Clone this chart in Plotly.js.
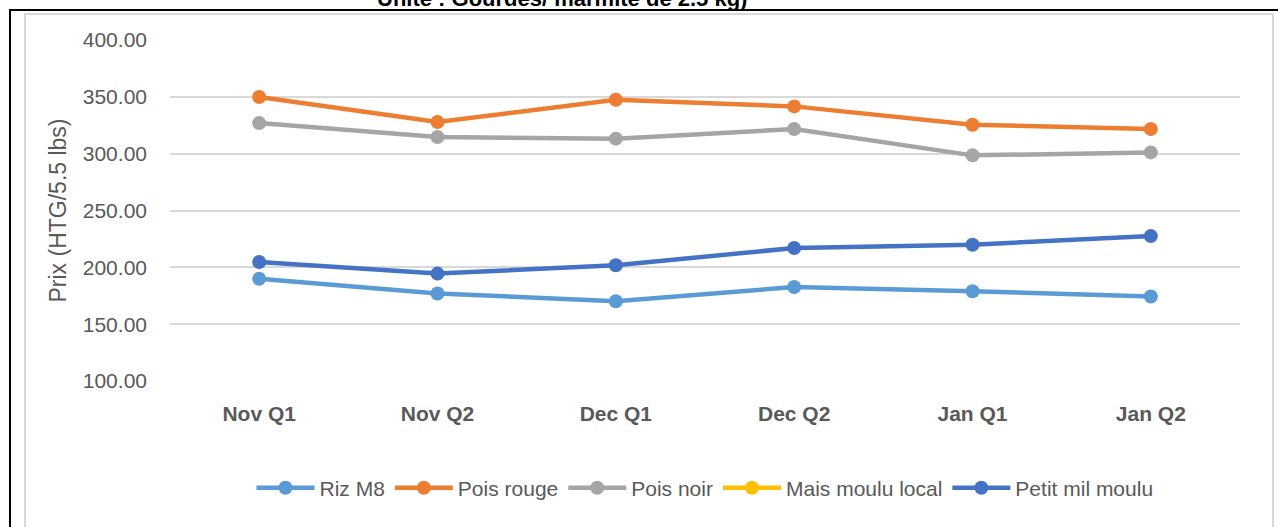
<!DOCTYPE html>
<html>
<head>
<meta charset="utf-8">
<script src="https://cdn.plot.ly/plotly-3.0.1.min.js"></script>
<style>
  html, body { margin: 0; padding: 0; background: #fff; }
  #wrap { position: relative; width: 1278px; height: 527px; overflow: hidden; }
  #chart { position: absolute; left: 0; top: 0; width: 1278px; height: 527px; }
  .ln { position: absolute; pointer-events: none; }
</style>
</head>
<body>
<div id="wrap">
  <div id="chart"></div>
  <div class="ln" style="left:9px; top:9px; width:1269px; height:2px; background:#000;"></div>
  <div class="ln" style="left:9px; top:9px; width:2px; height:518px; background:#000;"></div>
  <div class="ln" style="left:24px; top:13px; width:1246px; height:512px; border:2px solid #D9D9D9;"></div>
</div>
<script>
const categories = ["Nov Q1", "Nov Q2", "Dec Q1", "Dec Q2", "Jan Q1", "Jan Q2"];
const rizM8 = [190.0, 177.0, 170.2, 182.7, 179.0, 174.3];
const poisRouge = [349.8, 327.8, 347.4, 341.6, 325.4, 321.7];
const poisNoir = [326.9, 314.6, 313.2, 321.7, 298.5, 301.1];
const maisMouluLocal = [null, null, null, null, null, null];
const petitMilMoulu = [204.7, 194.5, 201.8, 217.0, 219.9, 227.5];
const titleText = "Unité : Gourdes/ marmite de 2.5 kg)";
const yTitle = "Prix (HTG/5.5 lbs)";

function tr(name, y, color) {
  return {
    type: "scatter", mode: "lines+markers", name: name,
    x: categories, y: y,
    line: { color: color, width: 4.5 },
    marker: { color: color, size: 14 },
    connectgaps: false
  };
}

const data = [
  tr("Riz M8", rizM8, "#5B9BD5"),
  tr("Pois rouge", poisRouge, "#ED7D31"),
  tr("Pois noir", poisNoir, "#A5A5A5"),
  tr("Mais moulu local", maisMouluLocal, "#FFC000"),
  tr("Petit mil moulu", petitMilMoulu, "#4472C4")
];

const layout = {
  width: 1278, height: 527,
  margin: { l: 170, r: 38, t: 40, b: 146 },
  paper_bgcolor: "rgba(0,0,0,0)",
  plot_bgcolor: "rgba(0,0,0,0)",
  font: { family: "Liberation Sans, Arial, sans-serif", color: "#595959", size: 20 },
  showlegend: true,
  xaxis: {
    type: "category",
    range: [-0.5, 5.5],
    showgrid: false, zeroline: false, showline: false,
    ticks: "",
    ticklabelstandoff: 18,
    tickfont: { size: 21, color: "#595959", family: "Liberation Sans, Arial, sans-serif", weight: "bold" }
  },
  yaxis: {
    range: [100, 400],
    dtick: 50,
    tickformat: ".2f",
    showgrid: true, gridcolor: "#D9D9D9", gridwidth: 2,
    zeroline: false, showline: false, ticks: "",
    ticklabelstandoff: 22,
    tickfont: { size: 21, color: "#595959" },
    title: { text: yTitle, font: { size: 23, color: "#595959" }, standoff: 9 }
  },
  legend: {
    orientation: "h",
    x: 0.5, xanchor: "center",
    y: -0.314, yanchor: "middle",
    font: { size: 21, color: "#595959" },
    itemwidth: 58
  },
  annotations: [{
    text: "<b>" + titleText + "</b>",
    xref: "paper", yref: "paper",
    x: (562 - 170) / 1070, xanchor: "center",
    y: 1 + 27 / 341, yanchor: "bottom",
    showarrow: false,
    font: { size: 22, color: "#000000", family: "Liberation Sans, Arial, sans-serif" }
  }]
};

Plotly.newPlot("chart", data, layout, { displayModeBar: false, staticPlot: true });
</script>
</body>
</html>
